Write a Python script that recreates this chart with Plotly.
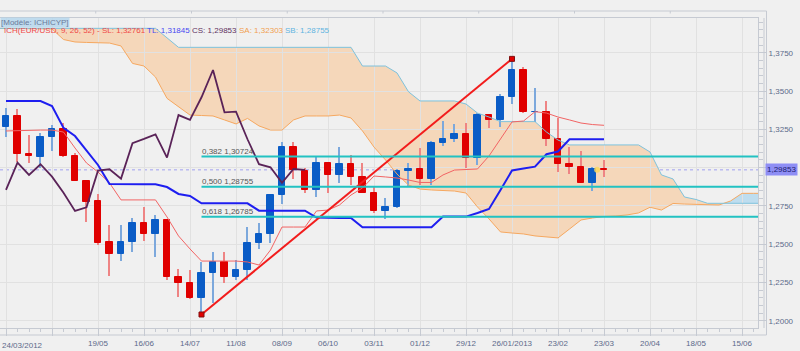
import plotly.graph_objects as go

# ---------------- data (weekly EUR/USD, week 0 = 24/03/2012) ----------------
opens = [1.3263, 1.3339, 1.3089, 1.3071, 1.3202, 1.3252, 1.3078, 1.2913, 1.2782, 1.2514,
         1.2434, 1.2514, 1.2636, 1.2567, 1.2658, 1.2284, 1.2245, 1.2147, 1.2314, 1.2384,
         1.2288, 1.2332, 1.2510, 1.2567, 1.2819, 1.3133, 1.2980, 1.2854, 1.3032, 1.2952,
         1.3022, 1.2941, 1.2836, 1.2717, 1.2741, 1.2976, 1.2989, 1.2928, 1.3159, 1.3185,
         1.3217, 1.3065, 1.3343, 1.3311, 1.3459, 1.3637, 1.3361, 1.3365, 1.3185, 1.3022,
         1.3002, 1.2901, 1.2990]
highs = [1.3387, 1.3381, 1.3213, 1.3228, 1.3278, 1.3289, 1.3093, 1.2915, 1.2828, 1.2625,
         1.2625, 1.2669, 1.2745, 1.2691, 1.2660, 1.2336, 1.2332, 1.2382, 1.2449, 1.2449,
         1.2397, 1.2614, 1.2636, 1.2822, 1.3165, 1.3169, 1.2996, 1.3076, 1.3035, 1.3136,
         1.3082, 1.3028, 1.2875, 1.2800, 1.2990, 1.3028, 1.3126, 1.3176, 1.3306, 1.3285,
         1.3289, 1.3358, 1.3350, 1.3478, 1.37098, 1.3655, 1.3518, 1.3435, 1.3322, 1.3136,
         1.3108, 1.3006, 1.3050]
lows = [1.3198, 1.3039, 1.3032, 1.2995, 1.3110, 1.3070, 1.2910, 1.2643, 1.2495, 1.2292,
        1.2392, 1.2447, 1.2523, 1.2415, 1.2266, 1.2157, 1.2145, 1.20412, 1.2117, 1.2245,
        1.2266, 1.2266, 1.2467, 1.2506, 1.2762, 1.2924, 1.2832, 1.2810, 1.2832, 1.2898,
        1.2886, 1.2832, 1.2702, 1.2663, 1.2738, 1.2875, 1.2886, 1.2886, 1.3143, 1.3169,
        1.2995, 1.3017, 1.3257, 1.3263, 1.3415, 1.3358, 1.3300, 1.3143, 1.2973, 1.2958,
        1.2898, 1.2849, 1.2941]
closes = [1.3339, 1.3089, 1.3074, 1.3202, 1.3250, 1.3076, 1.2913, 1.2777, 1.2510, 1.2434,
          1.2514, 1.2636, 1.2567, 1.2658, 1.2284, 1.2245, 1.2147, 1.2314, 1.2384, 1.2288,
          1.2332, 1.2511, 1.2567, 1.2819, 1.3133, 1.2984, 1.2854, 1.3032, 1.2952, 1.3022,
          1.2941, 1.2836, 1.2717, 1.2741, 1.2980, 1.2989, 1.2928, 1.3159, 1.3187, 1.3217,
          1.3065, 1.3343, 1.3311, 1.3459, 1.3637, 1.3361, 1.3365, 1.3185, 1.3022, 1.3002,
          1.2901, 1.2991, 1.29853]

# Ichimoku lines (week 0..52)
sl_line = [1.3239, 1.3242, 1.3245, 1.3245, 1.3245, 1.3232, 1.3128, 1.3030, 1.2971, 1.2900,
           1.2789, 1.2789, 1.2789, 1.2789, 1.2678, 1.2554, 1.2469, 1.2390, 1.2390, 1.2390,
           1.2390, 1.2384, 1.2364, 1.2462, 1.2612, 1.2612, 1.2612, 1.2717, 1.2723, 1.2756,
           1.2821, 1.2867, 1.2945, 1.2939, 1.2932, 1.2919, 1.2903, 1.2903, 1.2952, 1.2984,
           1.2989, 1.2991, 1.3076, 1.3187, 1.3298, 1.3304, 1.3365, 1.3356, 1.3330, 1.3311,
           1.3291, 1.3281, 1.32761]
tl_line = [1.3435, 1.3435, 1.3435, 1.3435, 1.3402, 1.3259, 1.3206, 1.3108, 1.3017, 1.2893,
           1.2891, 1.2891, 1.2891, 1.2891, 1.2873, 1.2828, 1.2815, 1.2767, 1.2767, 1.2767,
           1.2767, 1.2767, 1.2719, 1.2719, 1.2719, 1.2719, 1.2719, 1.2674, 1.2671, 1.2671,
           1.2671, 1.2610, 1.2610, 1.2610, 1.2610, 1.2610, 1.2610, 1.2610, 1.2680, 1.2680,
           1.2680, 1.2704, 1.2730, 1.2854, 1.2981, 1.2994, 1.3006, 1.3087, 1.3105, 1.31845,
           1.31845, 1.31845, 1.31845]
chikou_shift = 26

# cloud (already shifted), weeks -1..66
cloud_start = -1
senkou_a = [1.3909, 1.3909, 1.3909, 1.3909, 1.3909, 1.3905, 1.3836, 1.3820, 1.3817, 1.3813,
            1.3813, 1.3794, 1.3680, 1.3663, 1.3591, 1.3452, 1.3396, 1.3343, 1.3340, 1.3337,
            1.3311, 1.3285, 1.3321, 1.3272, 1.3245, 1.3245, 1.3311, 1.3337, 1.3337, 1.3337,
            1.3343, 1.3324, 1.3239, 1.3134, 1.3050, 1.2958, 1.2886, 1.2860, 1.2854, 1.2851,
            1.2847, 1.2834, 1.2743, 1.2665, 1.2580, 1.2573, 1.2567, 1.2554, 1.2547, 1.2541,
            1.2599, 1.2658, 1.2671, 1.2681, 1.2684, 1.2691, 1.2704, 1.2741, 1.2723, 1.2766,
            1.2762, 1.2760, 1.2759, 1.2756, 1.2782, 1.2832, 1.2832, 1.2832]
senkou_b = [1.3909] * 15 + [1.3847] + [1.3785] * 16 + [1.3663] * 3 + [1.3618, 1.3495] + \
           [1.3435] * 4 + [1.3415, 1.3356, 1.3330] + [1.3300] * 4 + [1.3232, 1.3180] + \
           [1.3148] * 7 + [1.3102, 1.2952, 1.2926, 1.2808, 1.2792] + [1.2767] * 6

# zigzag / fibonacci
zz_low_week, zz_high_week = 17, 44
fib_ratios = [0.382, 0.500, 0.618]
fib_levels = [1.30724, 1.28755, 1.26785]

# axes
tick_weeks = list(range(0, 65, 4))
tick_labels = ["24/03/2012", "21/04", "19/05", "16/06", "14/07", "11/08", "08/09", "06/10",
               "03/11", "01/12", "29/12", "26/01/2013", "23/02", "23/03", "20/04", "18/05", "15/06"]
hidden_labels = ["24/03/2012", "21/04"]
y_ticks = [1.2000, 1.2250, 1.2500, 1.2750, 1.3000, 1.3250, 1.3500, 1.3750]

legend_model = "[Modèle: ICHICYP]"
legend_items = [("ICH(EUR/USD, 9, 26, 52) -", "#F04848", 2),
                ("SL: 1,32761", "#F04848", 100),
                ("TL: 1,31845", "#4848F0", 145),
                ("CS: 1,29853", "#603060", 190),
                ("SA: 1,32303", "#F0A050", 237),
                ("SB: 1,28755", "#60B4E0", 283)]

# ---------------- geometry ----------------
W, H = 800, 351
ML, MR, MT, MB = 0, 42, 18, 23
PW, PH = W - ML - MR, H - MT - MB
x_range = [-0.522, -0.522 + PW / 11.5]
y_range = [1.1953, 1.39765]
FONT = "Liberation Sans, Arial, sans-serif"
LBL = "#5C6A8A"
FRAME = "#C6CAD2"


def fr(v, n):
    return f"{v:.{n}f}".replace(".", ",")


def px_x(p):
    return p / PW


def px_y(p):
    return 1 - (p - MT) / PH


weeks = list(range(len(closes)))
fig = go.Figure()

# ---- candles: wick bars then body bars ----
up = [c >= o for o, c in zip(opens, closes)]
fig.add_trace(go.Bar(x=weeks, base=lows, y=[h - l for h, l in zip(highs, lows)], width=0.09,
                     marker=dict(color=["#7CA8DC" if u else "#EE8484" for u in up], line=dict(width=0)),
                     hoverinfo="skip", showlegend=False))
fig.add_trace(go.Bar(x=weeks, base=opens, y=[c - o for o, c in zip(opens, closes)], width=0.6,
                     marker=dict(color=["#0A5CC6" if u else "#E00000" for u in up],
                                 line=dict(width=1, color=["#0A5CC6" if u else "#E00000" for u in up])),
                     hoverinfo="skip", showlegend=False))

# ---- cloud lines ----
cx = [cloud_start + k for k in range(len(senkou_a))]
fig.add_trace(go.Scatter(x=cx, y=senkou_a, mode="lines", line=dict(color="#F6A860", width=1),
                         showlegend=False, hoverinfo="skip"))
fig.add_trace(go.Scatter(x=cx, y=senkou_b, mode="lines", line=dict(color="#7EC2DC", width=1),
                         showlegend=False, hoverinfo="skip"))

# ---- ichimoku lines ----
fig.add_trace(go.Scatter(x=weeks, y=sl_line, mode="lines", line=dict(color="#F26464", width=1),
                         showlegend=False, hoverinfo="skip"))
fig.add_trace(go.Scatter(x=weeks, y=tl_line, mode="lines", line=dict(color="#1E1EF0", width=2),
                         showlegend=False, hoverinfo="skip"))
chik_x = weeks[:len(closes) - chikou_shift]
chik_y = closes[chikou_shift:]
fig.add_trace(go.Scatter(x=chik_x, y=chik_y, mode="lines", line=dict(color="#5A2358", width=1.8),
                         showlegend=False, hoverinfo="skip"))

# ---- zigzag ----
fig.add_trace(go.Scatter(x=[zz_low_week, zz_high_week], y=[lows[zz_low_week], highs[zz_high_week]],
                         mode="lines+markers", line=dict(color="#F21C1C", width=2),
                         marker=dict(symbol="square", size=5, color="#E00000", line=dict(color="#801010", width=1)),
                         showlegend=False, hoverinfo="skip"))

# ---- fibonacci lines ----
for r, lv in zip(fib_ratios, fib_levels):
    fig.add_trace(go.Scatter(x=[zz_low_week, x_range[1] + 2], y=[lv, lv], mode="lines",
                             line=dict(color="#22C2C2", width=2), showlegend=False, hoverinfo="skip"))

# ---- last price marker ----
fig.add_trace(go.Scatter(x=[weeks[-1] - 0.6], y=[closes[-1]], mode="markers",
                         marker=dict(size=6, color="rgba(250,215,90,0.85)", line=dict(width=0)),
                         showlegend=False, hoverinfo="skip"))

# ---- cloud fill shapes (split at crossings) ----
xs, a_s, b_s = [], [], []
for k in range(len(cx)):
    xs.append(cx[k]); a_s.append(senkou_a[k]); b_s.append(senkou_b[k])
    if k < len(cx) - 1:
        d0 = senkou_a[k] - senkou_b[k]
        d1 = senkou_a[k + 1] - senkou_b[k + 1]
        if d0 * d1 < 0:
            t = d0 / (d0 - d1)
            v = senkou_a[k] + t * (senkou_a[k + 1] - senkou_a[k])
            xs.append(cx[k] + t); a_s.append(v); b_s.append(v)
lo = [min(a, b) for a, b in zip(a_s, b_s)]
hi = [max(a, b) for a, b in zip(a_s, b_s)]


def poly(xa, top, bot):
    fwd = " L".join(f"{x:.4f},{y:.5f}" for x, y in zip(xa, top))
    back = " L".join(f"{x:.4f},{y:.5f}" for x, y in zip(reversed(xa), reversed(bot)))
    return "M" + fwd + " L" + back + " Z"


shapes = [
    dict(type="path", path=poly(xs, b_s, lo), xref="x", yref="y", fillcolor="#F5D7BA",
         line=dict(width=0), layer="below"),
    dict(type="path", path=poly(xs, hi, b_s), xref="x", yref="y", fillcolor="#BEDDEF",
         line=dict(width=0), layer="below"),
    dict(type="line", xref="paper", yref="y", x0=0, x1=1, y0=closes[-1], y1=closes[-1],
         line=dict(color="#A0A0F0", width=1, dash="dot"), layer="below"),
]
# outer frame
top_y = px_y(11)
bot_y = px_y(335)
right_x = px_x(766.5)
shapes += [
    dict(type="line", xref="paper", yref="paper", x0=0, x1=right_x, y0=top_y, y1=top_y,
         line=dict(color=FRAME, width=1)),
    dict(type="line", xref="paper", yref="paper", x0=right_x, x1=right_x, y0=top_y, y1=bot_y,
         line=dict(color=FRAME, width=1)),
    dict(type="line", xref="paper", yref="paper", x0=0, x1=right_x, y0=bot_y, y1=bot_y,
         line=dict(color=FRAME, width=1)),
    dict(type="line", xref="paper", yref="paper", x0=px_x(764), x1=px_x(764), y0=1, y1=0,
         line=dict(color=FRAME, width=1)),
]
for k in range(1, 8):
    xp = px_x(k * 95.75)
    shapes.append(dict(type="line", xref="paper", yref="paper", x0=xp, x1=xp, y0=top_y, y1=px_y(13.5),
                       line=dict(color=FRAME, width=1)))

# ---- annotations ----
ann = []
for r, lv in zip(fib_ratios, fib_levels):
    ann.append(dict(x=zz_low_week, y=lv, xref="x", yref="y", text=f"{fr(r, 3)} {fr(lv, 5)}",
                    showarrow=False, xanchor="left", yanchor="bottom", xshift=-2, yshift=-1,
                    font=dict(family=FONT, size=8, color="#555555")))
ann.append(dict(x=px_x(781), y=closes[-1], xref="paper", yref="y", text=fr(closes[-1], 5),
                showarrow=False, xanchor="center", yanchor="middle", bgcolor="#8E8EF5",
                borderpad=1, font=dict(family=FONT, size=8, color="#1C1C70")))
ann.append(dict(x=0, y=px_y(22.5), xref="paper", yref="paper", text=legend_model, showarrow=False,
                xanchor="left", yanchor="middle", bgcolor="rgba(175,212,238,0.75)", borderpad=0,
                font=dict(family=FONT, size=8, color="#6A7A9A")))
for txt, col, xp in legend_items:
    ann.append(dict(x=px_x(xp), y=px_y(30.5), xref="paper", yref="paper", text=txt, showarrow=False,
                    xanchor="left", yanchor="middle", font=dict(family=FONT, size=8, color=col)))
ann.append(dict(x=0, y=px_y(345), xref="paper", yref="paper", text=tick_labels[0], showarrow=False,
                xanchor="left", yanchor="middle", font=dict(family=FONT, size=8, color=LBL)))

# the last-price tag covers the nearest axis label
y_ticktext = ["" if abs(v - closes[-1]) < 0.005 else fr(v, 4) for v in y_ticks]

fig.update_layout(
    width=W, height=H, margin=dict(l=ML, r=MR, t=MT, b=MB),
    paper_bgcolor="#F0F0F0", plot_bgcolor="#F0F0F0",
    barmode="overlay", bargap=0, showlegend=False,
    shapes=shapes, annotations=ann,
    font=dict(family=FONT, size=8, color=LBL),
    xaxis=dict(range=x_range, tickmode="array", tickvals=tick_weeks,
               ticktext=["" if t in hidden_labels else t for t in tick_labels],
               showgrid=True, gridcolor="#E1E1E1", gridwidth=1, zeroline=False,
               showline=True, linecolor=FRAME, mirror=True,
               ticks="outside", ticklen=7, tickcolor=FRAME,
               tickfont=dict(family=FONT, size=8, color=LBL),
               minor=dict(tickmode="linear", tick0=0, dtick=1, ticks="outside", ticklen=3,
                          tickcolor=FRAME, showgrid=False),
               fixedrange=True),
    yaxis=dict(range=y_range, side="right", tickmode="array", tickvals=y_ticks,
               ticktext=y_ticktext,
               showgrid=True, gridcolor="#E1E1E1", gridwidth=1, zeroline=False,
               showline=True, linecolor=FRAME, mirror=True,
               ticks="outside", ticklen=8, tickcolor=FRAME,
               tickfont=dict(family=FONT, size=8, color=LBL),
               minor=dict(tickmode="linear", tick0=1.2, dtick=0.005, ticks="outside", ticklen=4,
                          tickcolor=FRAME, showgrid=False),
               fixedrange=True),
)

fig.write_html("out.html")
